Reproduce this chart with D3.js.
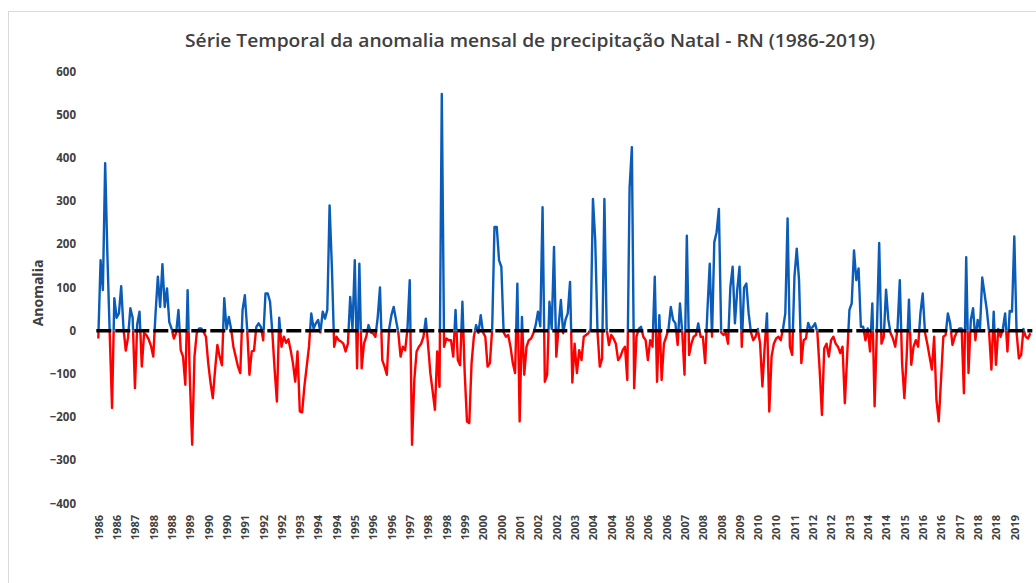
<!DOCTYPE html>
<html>
<head>
<meta charset="utf-8">
<script src="https://cdn.jsdelivr.net/npm/d3@7"></script>
<style>
  html, body { margin: 0; padding: 0; background: #fff; }
  svg { display: block; }
</style>
</head>
<body>
<svg id="chart" width="1036" height="583"></svg>
<script>
// Monthly precipitation anomaly, Natal - RN, Jan 1986 .. Dec 2019 (408 months)
const anomalia = [
  -18, 163, 94, 388, 170, -10, -179, 75, 30, 40,
  103, 5, -46, -15, 52, 30, -133, 15, 44, -83,
  -5, -10, -20, -35, -60, 40, 125, 55, 154, 55,
  98, 20, 5, -18, -5, 48, -45, -60, -125, 94,
  -115, -264, -60, -5, 5, 5, -3, -14, -75, -120,
  -156, -90, -33, -60, -80, 75, 4, 32, 4, -37,
  -60, -83, -98, 48, 82, 4, -102, -48, -46, 9,
  17, 9, -22, 86, 86, 67, -4, -90, -164, 30,
  -37, -14, -28, -20, -45, -75, -118, -48, -187, -189,
  -129, -83, -37, 40, 5, 17, 25, -4, 44, 28,
  48, 290, 148, -37, -14, -22, -25, -30, -48, -30,
  78, 4, 163, -87, 155, -87, -30, -14, 13, -4,
  -6, -14, 30, 100, -68, -83, -102, 4, 36, 55,
  25, -4, -60, -37, -45, 4, 117, -264, -114, -48,
  -37, -30, -14, 28, -33, -98, -140, -183, -48, -130,
  548, -37, -18, -22, -22, -60, 48, -68, -80, 67,
  -98, -210, -214, -75, -14, 13, -5, 36, -4, -14,
  -83, -75, 4, 240, 240, 163, 148, -4, -14, -10,
  -37, -75, -98, 109, -210, 32, -102, -37, -22, -18,
  -6, 13, 44, 10, 286, -118, -102, 67, 4, 194,
  -60, 9, 71, -6, 25, 40, 113, -120, -30, -98,
  -45, -68, -14, -10, -6, 4, 305, 210, -4, -83,
  -64, 305, 4, -33, -10, -18, -30, -68, -60, -45,
  -37, -114, 330, 425, -133, -14, 4, 9, -14, -22,
  -68, -22, -37, 125, -118, 36, -114, -30, -14, 4,
  55, 25, 17, -33, 63, -4, -102, 220, -56, -30,
  -14, -10, 17, -14, -14, -75, 48, 155, -14, 205,
  228, 282, -4, -10, -5, -30, 100, 148, 17, 94,
  148, -37, 100, 109, 40, -4, -22, -14, 4, -30,
  -129, -37, 40, -187, -60, -30, -18, -14, -22, 4,
  40, 260, -37, -56, 125, 190, 117, -75, -22, -18,
  18, 4, 9, 17, -4, -90, -195, -41, -30, -60,
  -22, -14, -30, -37, -52, -37, -168, -60, 48, 63,
  186, 117, 144, 9, 9, -22, 5, -48, 63, -175,
  4, 203, -30, -14, 95, 25, -6, -18, -37, 4,
  117, -75, -156, -60, 72, -79, -37, -22, -37, 40,
  86, -4, -30, -60, -90, -14, -160, -210, -114, -14,
  -10, 40, 17, -33, -14, -2, 5, 5, -145, 170,
  -98, 25, 52, -22, 25, 4, 123, 86, 48, -4,
  -90, 44, -79, 4, -14, 4, 40, -48, 46, 44,
  218, -4, -64, -56, 4, -14, -18, -6
];

// x-axis labels: one every 8 months
const tickLabels = [
  "1986","1986","1987","1988","1988","1989","1990","1990","1991","1992",
  "1992","1993","1994","1994","1995","1996","1996","1997","1998","1998",
  "1999","2000","2000","2001","2002","2002","2003","2004","2004","2005",
  "2006","2006","2007","2008","2008","2009","2010","2010","2011","2012",
  "2012","2013","2014","2014","2015","2016","2016","2017","2018","2018",
  "2019"
];
const tickEvery = 8;
const yTicks = [-400, -300, -200, -100, 0, 100, 200, 300, 400, 500, 600];

const titleText = "Série Temporal da anomalia mensal de precipitação Natal - RN (1986-2019)";
const yTitle = "Anomalia";

const svg = d3.select("#chart");
const FONT = "'Open Sans', 'Noto Sans', sans-serif";
const TXT = "#404040";

// chart frame
svg.append("rect")
  .attr("x", 8.5).attr("y", 11.5)
  .attr("width", 1060).attr("height", 620)
  .attr("fill", "#fff").attr("stroke", "#d9d9d9").attr("stroke-width", 1);

const x = d3.scaleLinear().domain([0, anomalia.length - 1]).range([98.3, 98.3 + 2.29 * (anomalia.length - 1)]);
const y = d3.scaleLinear().domain([-400, 600]).range([503.5, 71.5]);

// title
svg.append("text")
  .attr("x", 530).attr("y", 47)
  .attr("text-anchor", "middle")
  .attr("font-family", FONT).attr("font-size", 18).attr("font-weight", 600)
  .attr("fill", TXT)
  .attr("textLength", 690).attr("lengthAdjust", "spacingAndGlyphs")
  .text(titleText);

// y axis
const yAxis = svg.append("g")
  .attr("transform", "translate(76,0)")
  .call(d3.axisLeft(y).tickValues(yTicks).tickSize(0).tickPadding(0).tickFormat(d3.format("d")));
yAxis.select(".domain").remove();
yAxis.selectAll("text")
  .attr("font-family", FONT).attr("font-size", 11.5).attr("font-weight", 700)
  .attr("fill", TXT);

// y title
svg.append("text")
  .attr("transform", "translate(43,293) rotate(-90)")
  .attr("text-anchor", "middle")
  .attr("font-family", FONT).attr("font-size", 14).attr("font-weight", 700)
  .attr("fill", TXT)
  .text(yTitle);

// x axis
const xTickVals = tickLabels.map((d, i) => i * tickEvery);
const xAxis = svg.append("g")
  .attr("transform", "translate(0,515)")
  .call(d3.axisBottom(x).tickValues(xTickVals).tickSize(0).tickFormat(d => tickLabels[d / tickEvery]));
xAxis.select(".domain").remove();
xAxis.selectAll("text")
  .attr("font-family", FONT).attr("font-size", 11).attr("font-weight", 700)
  .attr("fill", TXT)
  .attr("x", 0).attr("y", 0).attr("dy", "0.35em")
  .attr("transform", "rotate(-90)")
  .style("text-anchor", "end");

// clip regions above/below zero
const defs = svg.append("defs");
defs.append("clipPath").attr("id", "above")
  .append("rect").attr("x", 0).attr("y", 0).attr("width", 1036).attr("height", y(0));
defs.append("clipPath").attr("id", "below")
  .append("rect").attr("x", 0).attr("y", y(0)).attr("width", 1036).attr("height", 583 - y(0));

const line = d3.line().x((d, i) => x(i)).y(d => y(d));

svg.append("path")
  .datum(anomalia)
  .attr("clip-path", "url(#below)")
  .attr("fill", "none").attr("stroke", "#ff0000").attr("stroke-width", 2.4)
  .attr("stroke-linejoin", "round")
  .attr("d", line);

svg.append("path")
  .datum(anomalia)
  .attr("clip-path", "url(#above)")
  .attr("fill", "none").attr("stroke", "#0a5cb8").attr("stroke-width", 2.4)
  .attr("stroke-linejoin", "round")
  .attr("d", line);

// zero reference line
svg.append("line")
  .attr("x1", x(0) - 2).attr("x2", x(anomalia.length - 1) + 2)
  .attr("y1", y(0)).attr("y2", y(0))
  .attr("stroke", "#000").attr("stroke-width", 3.5)
  .attr("stroke-dasharray", "15,4");
</script>
</body>
</html>
